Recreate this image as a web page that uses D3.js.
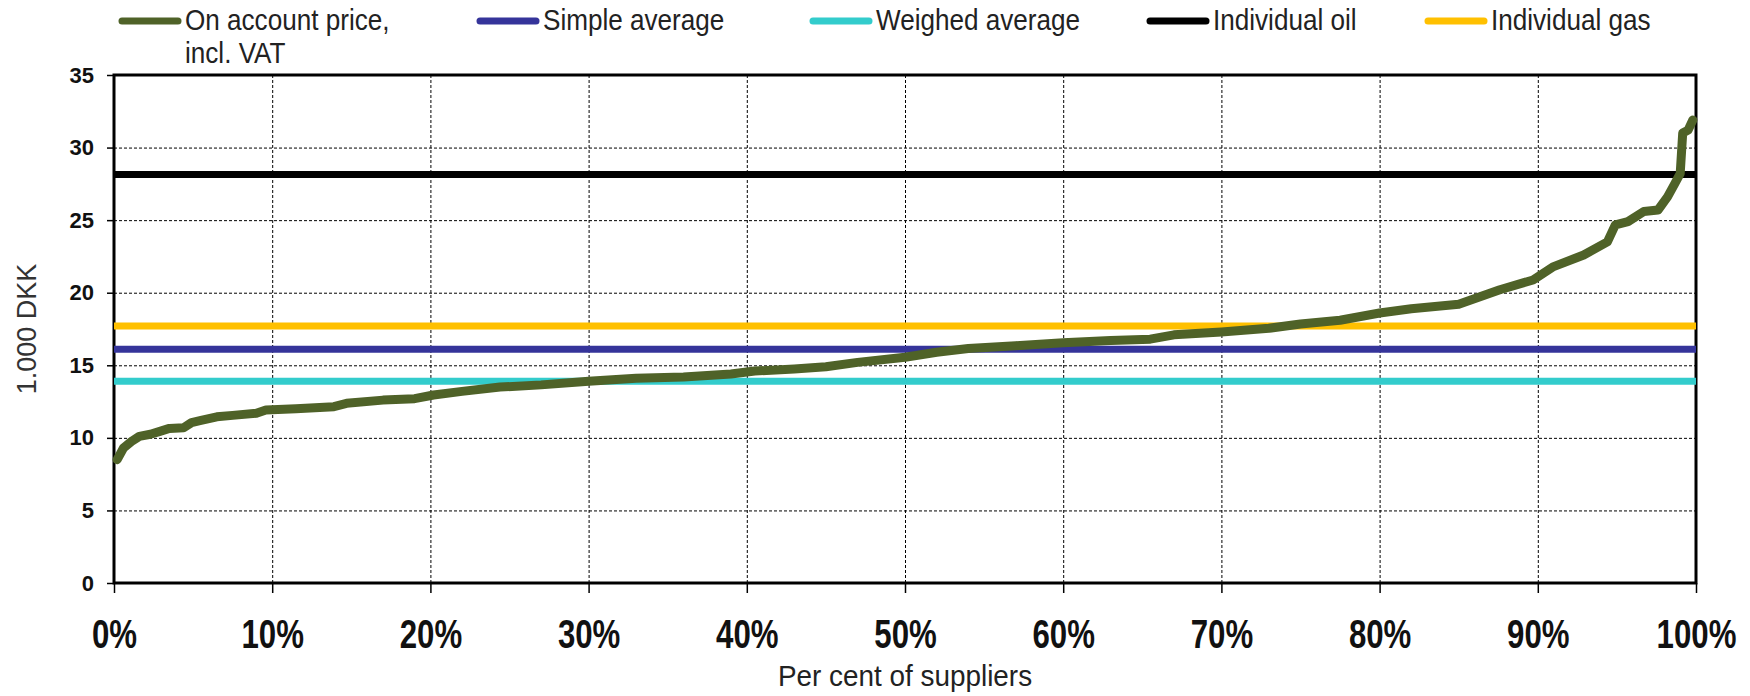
<!DOCTYPE html>
<html>
<head>
<meta charset="utf-8">
<script src="https://cdn.jsdelivr.net/npm/d3@7"></script>
<style>
  body { margin: 0; background: #fff; }
  svg { display: block; }
</style>
</head>
<body>
<svg id="chart" width="1750" height="696"></svg>
<script>
// Share of suppliers (per cent, sorted by price) and the on-account price (1.000 DKK)
const supplierShare = [0.2, 0.6, 1.1, 1.6, 2.3, 2.9, 3.5, 4.4, 4.9, 5.5,
  6.5, 7.5, 9.0, 9.6, 11.5, 13.9, 14.7, 17.0, 19.0, 20.2,
  22.0, 24.4, 27.0, 30.0, 33.0, 36.0, 39.0, 40.5, 43.0, 45.0,
  47.0, 50.0, 52.0, 54.0, 57.0, 60.0, 63.0, 65.5, 67.0, 70.0,
  73.0, 75.0, 77.5, 80.0, 82.0, 85.0, 87.6, 89.7, 91.0, 92.9,
  94.4, 94.9, 95.7, 96.7, 97.6, 98.2, 98.6, 99.0, 99.16, 99.5, 99.8];
const onAccountPrice = [8.5, 9.3, 9.75, 10.1, 10.25, 10.45, 10.65, 10.7, 11.05, 11.2,
  11.45, 11.55, 11.7, 11.92, 12.0, 12.15, 12.38, 12.6, 12.7, 12.95,
  13.2, 13.5, 13.65, 13.9, 14.1, 14.2, 14.4, 14.6, 14.75, 14.9,
  15.2, 15.55, 15.9, 16.15, 16.35, 16.55, 16.7, 16.8, 17.1, 17.3,
  17.55, 17.85, 18.1, 18.6, 18.9, 19.2, 20.2, 20.88, 21.8, 22.6,
  23.5, 24.67, 24.9, 25.6, 25.7, 26.6, 27.4, 28.2, 31.0, 31.2, 31.9];

// Reference levels (1.000 DKK)
const referenceNames = ["Simple average", "Weighed average", "Individual oil", "Individual gas"];
const referenceValues = [16.1, 13.9, 28.15, 17.7];

// Legend entries
const legendNames = ["On account price,\nincl. VAT", "Simple average", "Weighed average", "Individual oil", "Individual gas"];

// Axis ticks
const xTickValues = [0, 10, 20, 30, 40, 50, 60, 70, 80, 90, 100];
const yTickValues = [0, 5, 10, 15, 20, 25, 30, 35];

const colors = {
  "On account price,\nincl. VAT": "#4f6228",
  "Simple average": "#35349a",
  "Weighed average": "#33cccc",
  "Individual oil": "#000000",
  "Individual gas": "#ffc000"
};

const svg = d3.select("#chart");
const plot = { left: 114, right: 1696, top: 75, bottom: 583 };
const sansFont = "'Liberation Sans', Arial, sans-serif";

const x = d3.scaleLinear().domain([0, 100]).range([plot.left, plot.right]);
const y = d3.scaleLinear().domain([0, 35]).range([plot.bottom, plot.top]);

// Dashed grid
const grid = svg.append("g").attr("stroke", "#000").attr("stroke-width", 1).attr("stroke-dasharray", "3,2");
grid.selectAll("line.gy").data(yTickValues.filter(v => v > 0 && v < 35)).join("line")
  .attr("x1", plot.left).attr("x2", plot.right)
  .attr("y1", d => y(d) + 0.5).attr("y2", d => y(d) + 0.5);
grid.selectAll("line.gx").data(xTickValues.filter(v => v > 0 && v < 100)).join("line")
  .attr("y1", plot.top).attr("y2", plot.bottom)
  .attr("x1", d => x(d) + 0.5).attr("x2", d => x(d) + 0.5);

// Y axis
const yAxis = d3.axisLeft(y).tickValues(yTickValues).tickSize(7).tickPadding(13).tickFormat(d3.format("d"));
const gy = svg.append("g").attr("transform", `translate(${plot.left},0)`).call(yAxis);
gy.select(".domain").remove();
gy.selectAll(".tick line").attr("stroke", "#000").attr("stroke-width", 1.5);
gy.selectAll(".tick text")
  .attr("font-family", sansFont)
  .attr("font-weight", "bold").attr("font-size", 22).attr("fill", "#111");

// X axis (condensed bold labels)
const xAxis = d3.axisBottom(x).tickValues(xTickValues).tickSize(10).tickPadding(27).tickFormat(d => d + "%");
const gx = svg.append("g").attr("transform", `translate(0,${plot.bottom})`).call(xAxis);
gx.select(".domain").remove();
gx.selectAll(".tick line").attr("stroke", "#000").attr("stroke-width", 1.5);
gx.selectAll(".tick text")
  .attr("font-family", sansFont)
  .attr("font-weight", "bold").attr("font-size", 40).attr("fill", "#111")
  .attr("transform", "scale(0.78,1)");

// Plot frame
svg.append("rect")
  .attr("x", plot.left).attr("y", plot.top)
  .attr("width", plot.right - plot.left).attr("height", plot.bottom - plot.top)
  .attr("fill", "none").attr("stroke", "#000").attr("stroke-width", 3);

// Reference levels
svg.append("g").selectAll("line").data(referenceNames).join("line")
  .attr("x1", x(0)).attr("x2", x(100))
  .attr("y1", (d, i) => y(referenceValues[i])).attr("y2", (d, i) => y(referenceValues[i]))
  .attr("stroke", d => colors[d]).attr("stroke-width", 7);

// On-account price curve
const priceData = supplierShare.map((s, i) => ({ s, v: onAccountPrice[i] }));
svg.append("path").datum(priceData)
  .attr("fill", "none")
  .attr("stroke", colors[legendNames[0]])
  .attr("stroke-width", 9)
  .attr("stroke-linejoin", "round").attr("stroke-linecap", "round")
  .attr("d", d3.line().x(d => x(d.s)).y(d => y(d.v)));

// Axis titles
svg.append("text")
  .attr("transform", `translate(36,${(plot.top + plot.bottom) / 2}) rotate(-90)`)
  .attr("text-anchor", "middle")
  .attr("font-family", sansFont)
  .attr("font-size", 27).attr("fill", "#333")
  .text("1.000 DKK");

svg.append("g")
  .attr("transform", `translate(${(plot.left + plot.right) / 2},686) scale(0.93,1)`)
  .append("text")
  .attr("text-anchor", "middle")
  .attr("font-family", sansFont)
  .attr("font-size", 30).attr("fill", "#222")
  .text("Per cent of suppliers");

// Legend
const legendX = [118, 476, 809, 1146, 1424];
const swatchW = 64;
const legend = svg.append("g");
legendNames.forEach((name, i) => {
  const g = legend.append("g").attr("transform", `translate(${legendX[i]},0)`);
  g.append("line")
    .attr("x1", 4).attr("x2", swatchW - 4).attr("y1", 21).attr("y2", 21)
    .attr("stroke", colors[name]).attr("stroke-width", 7).attr("stroke-linecap", "round");
  const t = g.append("g")
    .attr("transform", `translate(${swatchW + 3},30) scale(0.87,1)`)
    .append("text")
    .attr("font-family", sansFont)
    .attr("font-size", 30).attr("fill", "#222");
  name.split("\n").forEach((line, j) => {
    t.append("tspan").attr("x", 0).attr("dy", j === 0 ? 0 : 33).text(line);
  });
});
</script>
</body>
</html>
